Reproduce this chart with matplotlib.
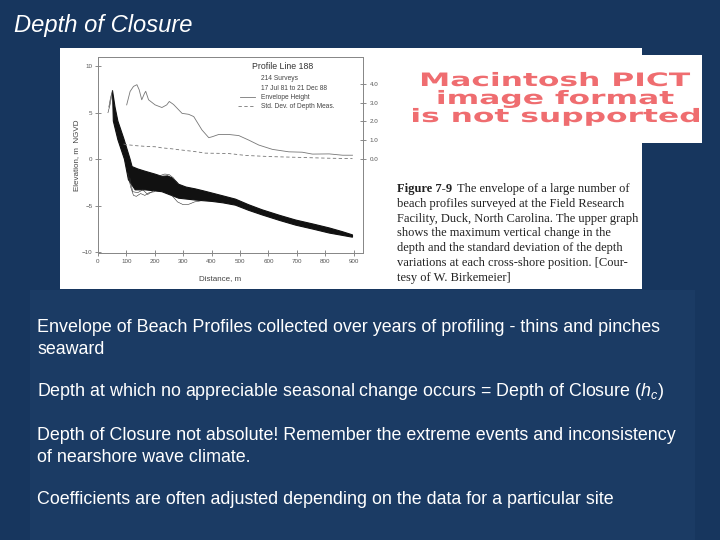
import numpy as np
import matplotlib
matplotlib.use("Agg")
import matplotlib.pyplot as plt
from matplotlib.patches import Rectangle, PathPatch
from matplotlib.textpath import TextPath
from matplotlib.font_manager import FontProperties
from matplotlib.transforms import Affine2D

plt.rcParams['font.family'] = ['Liberation Sans', 'DejaVu Sans']
plt.rcParams['mathtext.fontset'] = 'custom'
plt.rcParams['mathtext.it'] = 'Liberation Sans:italic'
plt.rcParams['mathtext.rm'] = 'Liberation Sans'

W, H = 720, 540

# ---------- data ----------
# envelope of the 214 profiles (upper / lower edge), distance in m, elevation in m NGVD
upper_dist = [51, 60, 70, 91, 113, 120, 140, 166, 200, 225, 245, 260, 275, 284, 310,
              343, 370, 402, 440, 484, 530, 578, 640, 696, 760, 814, 860, 896]
upper_elev = [7.4, 5.6, 4.1, 2.2, 0.0, -0.8, -1.05, -1.3, -1.6, -1.85, -1.8, -2.0, -2.4,
              -2.7, -3.0, -3.2, -3.4, -3.65, -3.95, -4.3, -4.9, -5.45, -6.05, -6.55,
              -7.0, -7.4, -7.8, -8.15]
lower_dist = [51, 54, 70, 93, 107, 131, 166, 225, 284, 343, 402, 440, 484, 530, 578,
              640, 696, 760, 814, 860, 896]
lower_elev = [7.4, 4.1, 2.1, 0.0, -2.2, -3.3, -3.3, -3.5, -4.2, -4.4, -4.55, -4.7,
              -4.95, -5.5, -6.0, -6.6, -7.1, -7.55, -7.95, -8.2, -8.4]

# a few stray profiles sticking out of the envelope
stray_profiles = [
    ([35, 42, 48, 51], [5.0, 5.8, 6.8, 7.4]),
    ([38, 44, 50], [5.6, 6.6, 7.3]),
    ([105, 115, 125, 135, 150, 165, 180, 200], [-1.5, -3.0, -3.9, -4.0, -3.7, -3.9, -3.6, -3.5]),
    ([112, 122, 140, 158, 175, 195], [-2.0, -3.5, -3.6, -3.3, -3.8, -3.4]),
    ([260, 280, 300, 320, 340, 360], [-3.9, -4.6, -4.9, -4.85, -4.6, -4.5]),
    ([215, 235, 250, 265, 280], [-1.8, -1.6, -1.65, -2.0, -2.6]),
]

# upper graph, right axis (m)
env_dist = [101, 113, 125, 137, 145, 154, 164, 168, 178, 201, 225, 242, 251, 266, 296,
            319, 337, 366, 390, 402, 425, 461, 496, 531, 566, 614, 672, 719, 755, 814,
            861, 896]
env_height = [2.88, 3.59, 3.86, 3.95, 3.68, 3.15, 3.5, 3.6, 3.15, 2.88, 2.74, 2.88, 3.06,
              2.9, 2.43, 2.38, 2.26, 1.55, 1.14, 1.19, 1.31, 1.31, 1.25, 1.01, 0.75,
              0.52, 0.39, 0.37, 0.27, 0.28, 0.21, 0.21]
sd_dist = [90, 107, 131, 166, 201, 225, 260, 285, 315, 343, 378, 420, 460, 519, 601,
           696, 814, 896]
sd_depth = [0.8, 0.76, 0.72, 0.68, 0.66, 0.6, 0.55, 0.5, 0.45, 0.4, 0.32, 0.31, 0.3,
            0.2, 0.14, 0.1, 0.05, 0.03]

x_ticks = list(range(0, 901, 100))
y_ticks = [-10, -5, 0, 5, 10]
right_ticks = [0.0, 1.0, 2.0, 3.0, 4.0]

caption_lines = [
    "beach profiles surveyed at the Field Research",
    "Facility, Duck, North Carolina. The upper graph",
    "shows the maximum vertical change in the",
    "depth and the standard deviation of the depth",
    "variations at each cross-shore position. [Cour-",
    "tesy of W. Birkemeier]",
]
body_lines = [
    (332, "Envelope of Beach Profiles collected over years of profiling - thins and pinches"),
    (354, "seaward"),
    (396, r"Depth at which no appreciable seasonal change occurs = Depth of Closure ($h_c$)"),
    (440, "Depth of Closure not absolute! Remember the extreme events and inconsistency"),
    (462, "of nearshore wave climate."),
    (504, "Coefficients are often adjusted depending on the data for a particular site"),
]
pict_lines = ["Macintosh PICT", "image format", "is not supported"]


def fx(x):
    return x / W


def fy(y):
    return 1 - y / H


fig = plt.figure(figsize=(7.2, 5.4), dpi=100)
fig.patch.set_facecolor('#17365e')

# panels (behind the axes)
fig.add_artist(Rectangle((fx(30), 0), fx(695) - fx(30), fy(290), transform=fig.transFigure,
                         facecolor='#1b3b64', edgecolor='none', zorder=-3))
fig.add_artist(Rectangle((fx(60), fy(289)), fx(642) - fx(60), fy(48) - fy(289),
                         transform=fig.transFigure, facecolor='white', edgecolor='none',
                         zorder=-2))
fig.add_artist(Rectangle((fx(410), fy(143)), fx(702) - fx(410), fy(55) - fy(143),
                         transform=fig.transFigure, facecolor='white', edgecolor='none',
                         zorder=-2))

# "Macintosh PICT" placeholder, stretched wide like the original
fp = FontProperties(family='DejaVu Sans', weight='bold')
paths = [TextPath((0, 0), s, size=1, prop=fp) for s in pict_lines]
sx = 286 / paths[2].get_extents().width
sy = 13.5 / 0.73
for tp, base in zip(paths, [86, 104, 122]):
    bb = tp.get_extents()
    tr = Affine2D().translate(-bb.x0 - bb.width / 2, 0).scale(sx, sy).translate(556, H - base)
    fig.add_artist(PathPatch(tp, transform=tr, facecolor='#ef6d70', edgecolor='none'))

# ---------- the profile chart ----------
ax = fig.add_axes([fx(98), fy(253), (363 - 98) / W, (253 - 57) / H])
ax.set_facecolor('white')
ax.set_xlim(0, 933)
ax.set_ylim(-10.1, 11.0)

poly_x = np.r_[upper_dist, lower_dist[::-1]]
poly_y = np.r_[upper_elev, lower_elev[::-1]]
ax.fill(poly_x, poly_y, color='#111111', lw=0.8, ec='#111111')
for xs, ys in stray_profiles:
    ax.plot(xs, ys, color='#333333', lw=0.4)

ax2 = ax.twinx()
ax2.set_ylim(-10.1 / 2.03, 11.0 / 2.03)
ax2.plot(env_dist, env_height, color='#777777', lw=0.6)
ax2.plot(sd_dist, sd_depth, color='#777777', lw=0.6, dashes=(4, 3))

for a in (ax, ax2):
    for sp in a.spines.values():
        sp.set_color('#888888')
        sp.set_linewidth(0.7)
ax.set_xticks(x_ticks)
ax.set_yticks(y_ticks)
ax2.set_yticks(right_ticks)
ax2.set_yticklabels([f"{v:.1f}" for v in right_ticks])
ax.tick_params(axis='both', direction='inout', length=4, width=0.6, color='#777777',
               labelsize=4.5, labelcolor='#555555', pad=2)
ax2.tick_params(axis='y', direction='inout', length=4, width=0.6, color='#777777',
                labelsize=4.5, labelcolor='#555555', pad=3)

ax.set_ylabel("Elevation, m  NGVD", fontsize=5.8, color='#444444')
ax.yaxis.set_label_coords(-0.066, 0.5)
ax.set_xlabel("Distance, m", fontsize=5.8, color='#444444')
ax.xaxis.set_label_coords(0.46, -0.112)

# legend block
ax.text(0.581, 0.949, "Profile Line 188", transform=ax.transAxes, fontsize=6.3,
        color='#333333', va='center')
ax.text(0.615, 0.888, "214 Surveys", transform=ax.transAxes, fontsize=4.8,
        color='#444444', va='center')
ax.text(0.615, 0.840, "17 Jul 81 to 21 Dec 88", transform=ax.transAxes, fontsize=4.8,
        color='#444444', va='center')
ax.text(0.615, 0.794, "Envelope Height", transform=ax.transAxes, fontsize=4.8,
        color='#444444', va='center')
ax.text(0.615, 0.750, "Std. Dev. of Depth Meas.", transform=ax.transAxes, fontsize=4.8,
        color='#444444', va='center')
ax.plot([0.536, 0.592], [0.794, 0.794], transform=ax.transAxes, color='#777777', lw=0.6)
ax.plot([0.528, 0.592], [0.750, 0.750], transform=ax.transAxes, color='#777777', lw=0.6,
        dashes=(4, 3))

# ---------- caption (serif, as in the book) ----------
fig.text(fx(397), fy(192), "Figure 7-9", family='Liberation Serif', weight='bold',
         fontsize=9.0, color='#222222', va='baseline')
fig.text(fx(457), fy(192), "The envelope of a large number of", family='Liberation Serif',
         fontsize=9.0, color='#222222', va='baseline')
for i, line in enumerate(caption_lines):
    fig.text(fx(397), fy(192 + 14.83 * (i + 1)), line, family='Liberation Serif',
             fontsize=9.0, color='#222222', va='baseline')

# ---------- slide text ----------
fig.text(fx(14), fy(32), "Depth of Closure", fontsize=17.1, style='italic', color='white',
         va='baseline')
for base, line in body_lines:
    fig.text(fx(37), fy(base), line, fontsize=12.9, color='white', va='baseline')

fig.savefig("out.png", dpi=100, facecolor=fig.get_facecolor())
